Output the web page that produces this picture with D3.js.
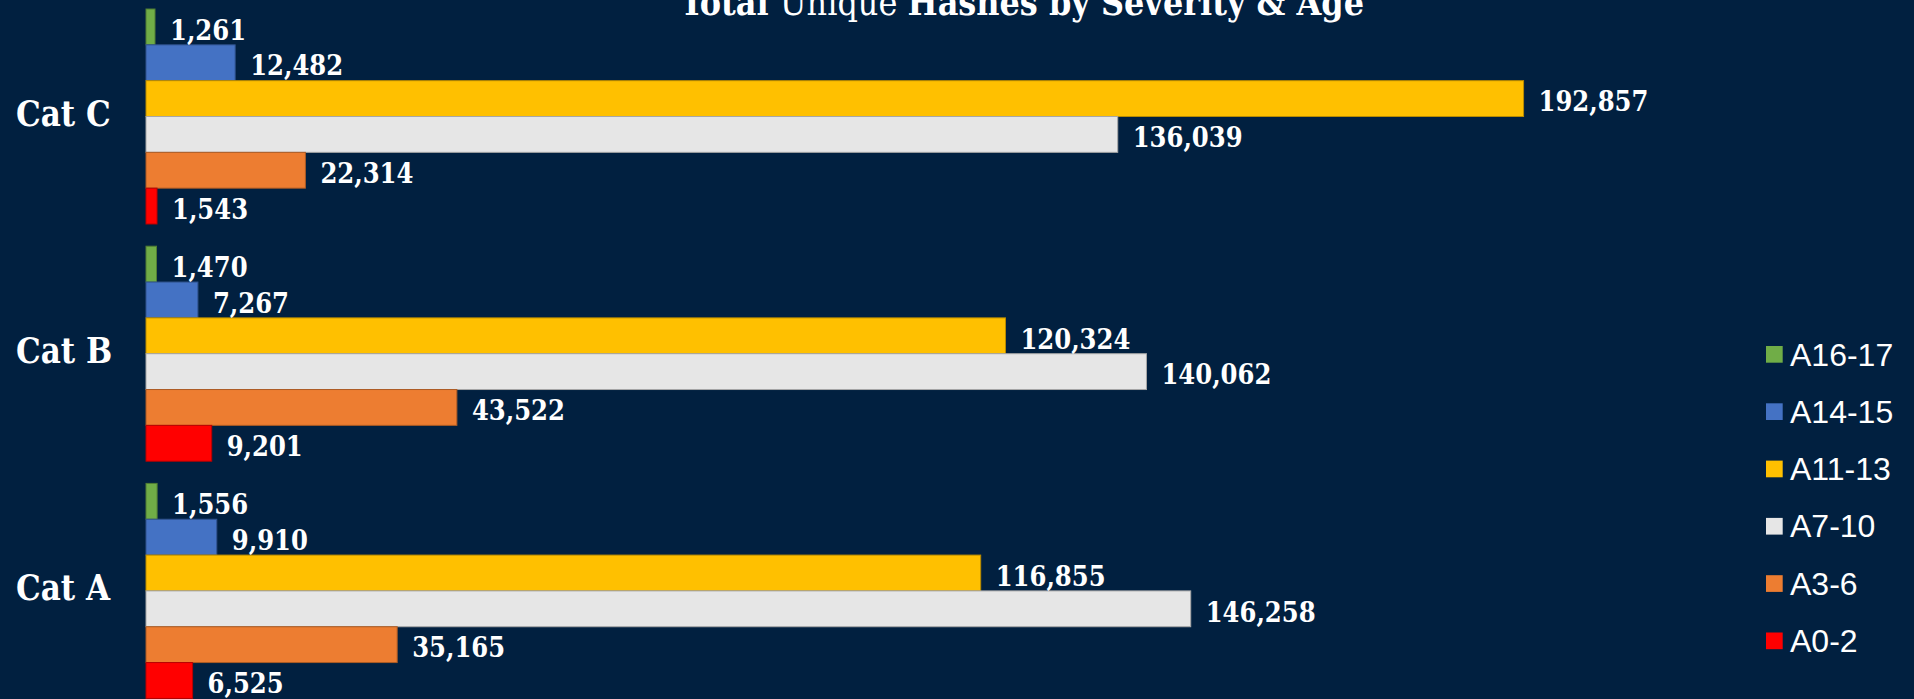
<!DOCTYPE html>
<html>
<head>
<meta charset="utf-8">
<script src="https://cdn.jsdelivr.net/npm/d3@7"></script>
<style>
  html, body { margin: 0; padding: 0; background: #012040; overflow: hidden; }
  svg { display: block; }
</style>
</head>
<body>
<div id="chart"></div>
<script>
// categories top to bottom as drawn
const categories = ['Cat C', 'Cat B', 'Cat A']
// series in drawing order inside each group (top to bottom)
const seriesNames = ['A16-17', 'A14-15', 'A11-13', 'A7-10', 'A3-6', 'A0-2']
const seriesColours = ['#70AD47', '#4472C4', '#FFC000', '#E6E6E6', '#ED7D31', '#FF0000']
// values per category, same order as seriesNames
const catC = [1261, 12482, 192857, 136039, 22314, 1543]
const catB = [1470, 7267, 120324, 140062, 43522, 9201]
const catA = [1556, 9910, 116855, 146258, 35165, 6525]

const valuesByCat = { 'Cat C': catC, 'Cat B': catB, 'Cat A': catA }

const width = 1914
const height = 699
const bg = '#012040'
const serif = '"DejaVu Serif Condensed", "DejaVu Serif", serif'

const svg = d3.select('#chart').append('svg')
  .attr('width', width)
  .attr('height', height)

svg.append('rect')
  .attr('width', width)
  .attr('height', height)
  .attr('fill', bg)

// scales
const x = d3.scaleLinear().domain([0, 200000]).range([146, 1574.6])
const y0 = d3.scaleBand().domain(categories).range([-2.1, 709.5])
  .paddingInner(0.0936).paddingOuter(0.0468)
const y1 = d3.scaleBand().domain(seriesNames).range([0, y0.bandwidth()])
const colour = d3.scaleOrdinal().domain(seriesNames).range(seriesColours)

const rows = []
categories.forEach(c => {
  valuesByCat[c].forEach((v, i) => rows.push({ cat: c, series: seriesNames[i], value: v }))
})

const fmt = d3.format(',')

const gBars = svg.append('g')

gBars.selectAll('.bar')
  .data(rows)
  .enter()
  .append('rect')
  .attr('class', 'bar')
  .attr('x', x(0))
  .attr('y', d => y0(d.cat) + y1(d.series))
  .attr('width', d => x(d.value) - x(0))
  .attr('height', y1.bandwidth())
  .attr('fill', d => colour(d.series))
  .attr('stroke', d => d3.color(colour(d.series)).darker(0.9))
  .attr('stroke-width', 1)

gBars.selectAll('.valueLabel')
  .data(rows)
  .enter()
  .append('text')
  .attr('class', 'valueLabel')
  .attr('x', d => x(d.value) + 15)
  .attr('y', d => y0(d.cat) + y1(d.series) + y1.bandwidth() / 2 + 3)
  .attr('dy', '0.36em')
  .text(d => fmt(d.value))
  .style('font-family', serif)
  .style('font-stretch', 'condensed')
  .style('font-weight', 'bold')
  .style('font-size', '27px')
  .style('fill', 'white')

// category labels
svg.selectAll('.catLabel')
  .data(categories)
  .enter()
  .append('text')
  .attr('class', 'catLabel')
  .attr('x', 16)
  .attr('y', d => y0(d) + y0.bandwidth() / 2 - 3)
  .attr('dy', '0.36em')
  .text(d => d)
  .style('font-family', serif)
  .style('font-stretch', 'condensed')
  .style('font-weight', 'bold')
  .style('font-size', '34.5px')
  .style('fill', 'white')

// title (sits partly above the top edge like the original)
const title = svg.append('text')
  .attr('x', 1022)
  .attr('y', 15)
  .attr('text-anchor', 'middle')
  .style('font-family', serif)
  .style('font-stretch', 'condensed')
  .style('font-size', '35.5px')
  .style('fill', 'white')
title.append('tspan').style('font-weight', 'bold').text('Total ')
title.append('tspan').style('font-weight', 'normal').text('Unique ')
title.append('tspan').style('font-weight', 'bold').text('Hashes by Severity & Age')

// legend
const legend = svg.append('g')
const legendY = d3.scalePoint().domain(seriesNames).range([354.3, 354.3 + 5 * 57.3])

legend.selectAll('.legendSwatch')
  .data(seriesNames)
  .enter()
  .append('rect')
  .attr('class', 'legendSwatch')
  .attr('x', 1766)
  .attr('y', d => legendY(d) - 8.3)
  .attr('width', 16.7)
  .attr('height', 16.7)
  .attr('fill', d => colour(d))

legend.selectAll('.legendText')
  .data(seriesNames)
  .enter()
  .append('text')
  .attr('class', 'legendText')
  .attr('x', 1790)
  .attr('y', legendY)
  .attr('dy', '0.35em')
  .text(d => d)
  .style('font-family', '"Liberation Sans", Arial, sans-serif')
  .style('font-size', '32px')
  .style('fill', 'white')
</script>
</body>
</html>
